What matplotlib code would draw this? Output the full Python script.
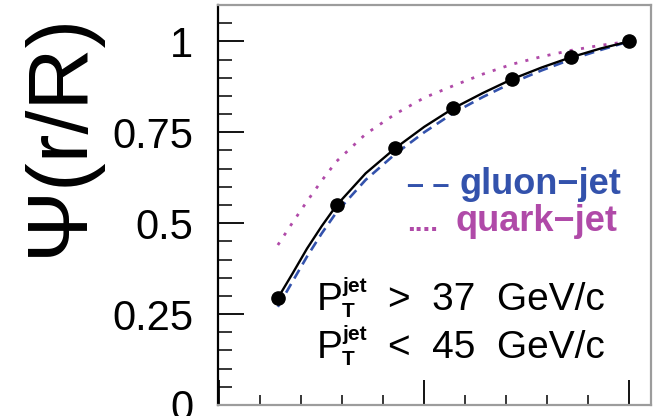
import matplotlib

matplotlib.use("Agg")
import matplotlib.pyplot as plt
from matplotlib.ticker import MultipleLocator, FuncFormatter


# jet shape points (r/R in steps of 1/7) and model curves
points_x = [0.143, 0.286, 0.429, 0.571, 0.714, 0.857, 1.0]
points_psi = [0.294, 0.549, 0.706, 0.816, 0.896, 0.956, 1.0]

curve_x = [0.143, 0.179, 0.214, 0.25, 0.286, 0.357, 0.429, 0.5, 0.571,
           0.643, 0.714, 0.786, 0.857, 0.929, 1.0]
data_curve = [0.294, 0.362, 0.43, 0.492, 0.549, 0.637, 0.706, 0.765, 0.816,
              0.858, 0.896, 0.928, 0.956, 0.98, 1.0]
gluon_curve = [0.27, 0.34, 0.408, 0.472, 0.53, 0.619, 0.69, 0.75, 0.803,
               0.847, 0.886, 0.92, 0.95, 0.976, 1.0]
quark_curve = [0.44, 0.502, 0.56, 0.617, 0.67, 0.745, 0.80, 0.845, 0.878,
               0.91, 0.937, 0.958, 0.975, 0.989, 1.0]

cut_rest = [">  37  GeV/c", "<  45  GeV/c"]

BLUE = "#3352ac"
MAGENTA = "#b04aa8"

plt.rcParams["font.family"] = ["Liberation Sans", "DejaVu Sans"]

fig = plt.figure(figsize=(6.56, 4.16), dpi=100)
ax = fig.add_axes([218 / 656, 11 / 416, 433 / 656, 400 / 416])

ax.plot(curve_x, quark_curve, color=MAGENTA, lw=2.0,
        linestyle=(0, (1.1, 3.0)))
ax.plot(curve_x, gluon_curve, color=BLUE, lw=1.9,
        linestyle=(0, (3.8, 2.4)))
ax.plot(curve_x, data_curve, color="black", lw=1.7)
ax.plot(points_x, points_psi, "o", color="black", markersize=9.5)

ax.set_xlim(-0.003, 1.053)
ax.set_ylim(0, 1.1)

ax.yaxis.set_major_locator(MultipleLocator(0.25))
ax.yaxis.set_minor_locator(MultipleLocator(0.05))
ax.xaxis.set_major_locator(MultipleLocator(0.5))
ax.xaxis.set_minor_locator(MultipleLocator(0.1))
ax.yaxis.set_major_formatter(FuncFormatter(lambda v, _: "%g" % v if v <= 1.0 else ""))

ax.tick_params(axis="y", which="major", direction="in", length=19, width=1.3,
               labelsize=30, pad=18)
ax.tick_params(axis="y", which="minor", direction="in", length=10, width=1.1)
ax.tick_params(axis="x", which="major", direction="in", length=18, width=1.3,
               labelbottom=False)
ax.tick_params(axis="x", which="minor", direction="in", length=7, width=1.1)

ax.spines["left"].set_linewidth(1.6)
for side in ("top", "right", "bottom"):
    ax.spines[side].set_color("#9c9c9c")
    ax.spines[side].set_linewidth(1.6)

fig.text(60 / 656, 1 - 134 / 416, "Ψ(r/R)", rotation=90, fontsize=62,
         ha="center", va="center")


def fx(px):
    return (px - 218) / 433


def fy(py):
    return (405 - py) / 400


# legend drawn as text, the way the original does it
ax.text(fx(416), fy(173), "– –", color=BLUE, fontsize=22, fontweight="bold",
        va="baseline", ha="left")
ax.text(fx(472), fy(173), "gluon−jet", color=BLUE, fontsize=26,
        fontweight="bold", va="baseline", ha="left")
ax.text(fx(416), fy(214), "....", color=MAGENTA, fontsize=20, fontweight="bold",
        va="baseline", ha="left")
ax.text(fx(467), fy(214), "quark−jet", color=MAGENTA, fontsize=26,
        fontweight="bold", va="baseline", ha="left")

# P_T^jet cut labels: P, subscript T, superscript jet, then the rest
for base, rest in zip([300, 353], cut_rest):
    ax.text(fx(321), fy(base), "P", fontsize=28, va="baseline", ha="left")
    ax.text(fx(347), fy(base + 8), "T", fontsize=15, fontweight="bold",
            va="baseline", ha="left")
    ax.text(fx(348), fy(base - 19), "jet", fontsize=15, fontweight="bold",
            va="baseline", ha="left")
    ax.text(fx(396), fy(base), rest, fontsize=28, va="baseline", ha="left")

fig.savefig("out.png", dpi=100)
